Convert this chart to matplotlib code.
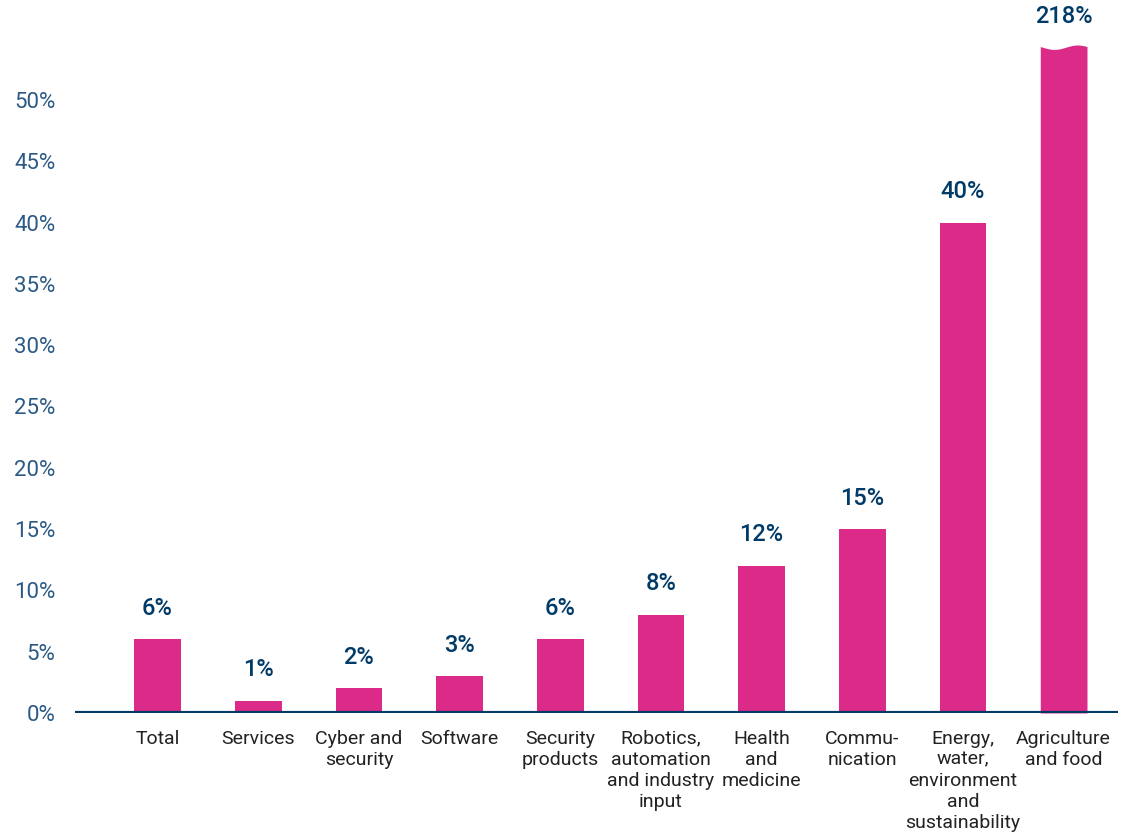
import numpy as np
import matplotlib
matplotlib.use("Agg")
import matplotlib.pyplot as plt

# growth by sector
categories = ["Total", "Services", "Cyber and\nsecurity", "Software", "Security\nproducts",
              "Robotics,\nautomation\nand industry\ninput", "Health\nand\nmedicine",
              "Commu-\nnication", "Energy,\nwater,\nenvironment\nand\nsustainability",
              "Agriculture\nand food"]
values = [6, 1, 2, 3, 6, 8, 12, 15, 40, 218]
yticks = [0, 5, 10, 15, 20, 25, 30, 35, 40, 45, 50]

PINK = "#DB2A87"
NAVY = "#003B68"
TICK = "#2B5A86"
cap = 54.3  # bars above this get a broken (wavy) top

plt.rcParams["font.family"] = ["Roboto", "DejaVu Sans"]

fig = plt.figure(figsize=(11.25, 8.34), dpi=100)
ax = fig.add_axes([75 / 1125, 121 / 834, (1118 - 75) / 1125, 713 / 834])

x = np.arange(len(values))
w = 0.464
for xi, v in zip(x, values):
    if v <= cap:
        ax.bar(xi, v, width=w, color=PINK, zorder=2)
        top = v
    else:
        xs = np.linspace(xi - w / 2, xi + w / 2, 60)
        wave = cap + 0.18 * np.sin(np.linspace(-0.3, 2 * np.pi - 0.3, 60) + np.pi)
        ax.fill_between(xs, 0, wave, color=PINK, lw=0, zorder=2)
        top = cap
    ax.annotate(f"{v}%", (xi, top), xytext=(0, 14), textcoords="offset points",
                ha="center", va="bottom", fontsize=17, fontweight="medium", color=NAVY)

ax.axhline(0, color=NAVY, lw=3, zorder=3)

ax.set_xlim(-0.82, 9.54)
ax.set_ylim(0, 58.15)
ax.set_xticks(x)
ax.set_xticklabels(categories, fontsize=14, color="#222222", linespacing=1.22, va="top")
ax.set_yticks(yticks)
ax.set_yticklabels([f"{t}%" for t in yticks], fontsize=16, color=TICK)
ax.tick_params(axis="x", length=0, pad=12)
ax.tick_params(axis="y", length=0, pad=14)
for s in ax.spines.values():
    s.set_visible(False)

fig.savefig("out.png", dpi=100)
